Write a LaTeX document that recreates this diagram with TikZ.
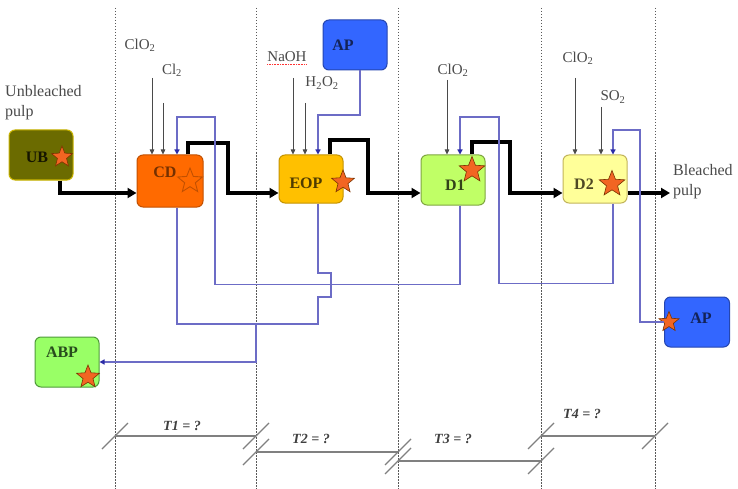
\documentclass[tikz,border=0pt]{standalone}
\usepackage{fontspec}
\setmainfont{Liberation Serif}
\usetikzlibrary{positioning,calc,arrows.meta,shapes.geometric}
\definecolor{UBolive}{HTML}{6B6B00}
\definecolor{UBedge}{HTML}{C9B400}
\definecolor{CDorange}{HTML}{FF6A00}
\definecolor{CDedge}{HTML}{C25000}
\definecolor{EOPgold}{HTML}{FFC000}
\definecolor{EOPedge}{HTML}{C49300}
\definecolor{Donelime}{HTML}{C0FF66}
\definecolor{Doneedge}{HTML}{7FA640}
\definecolor{Dtwocream}{HTML}{FFFF99}
\definecolor{Dtwoedge}{HTML}{C2B45A}
\definecolor{APblue}{HTML}{3366FF}
\definecolor{APedge}{HTML}{2546B0}
\definecolor{ABPgreen}{HTML}{99FF66}
\definecolor{ABPedge}{HTML}{4F9A3A}
\definecolor{FiltBlue}{HTML}{6C6CC6}
\definecolor{FiltTip}{HTML}{2B2BA6}
\definecolor{ChemGray}{HTML}{4A4A4A}
\definecolor{StarOrange}{HTML}{F26522}
\definecolor{StarEdge}{HTML}{7A3300}
\tikzset{
  unit/.style 2 args={draw=#2,fill=#1,rounded corners=6pt,line width=1pt,minimum width=64pt,minimum height=50pt,inner sep=0pt},
  burst/.style={star,star points=5,star point ratio=2.3,minimum size=#1,inner sep=0pt,fill=StarOrange,draw=StarEdge,line width=0.6pt},
  burst/.default=24pt
}

\begin{document}
\begin{tikzpicture}[x=1pt,y=-1pt,
  boxtext/.style={font=\fontsize{16}{18}\selectfont\bfseries,inner sep=0pt},
  chemlbl/.style={font=\fontsize{15}{20}\selectfont,text=ChemGray,inner sep=0pt},
  chem/.style={draw=ChemGray,line width=0.7pt,-{Triangle[length=5pt,width=4.5pt]}},
  pulp/.style={line width=3.2pt,-{Triangle[length=9pt,width=10pt]}},
  filt/.style={draw=FiltBlue,line width=1.3pt},
  filtin/.style={filt,-{Triangle[length=5pt,width=5pt,color=FiltTip]}},
  stage/.style={draw=gray!70!black,line width=0.8pt,dash pattern=on 1.5pt off 1.5pt},
  tbar/.style={draw=gray,line width=1.2pt},
  tlabel/.style={font=\fontsize{14}{16}\selectfont\bfseries\itshape,text=black!75,inner sep=0pt}]
\fill[white] (0,0) rectangle (738,489);
\useasboundingbox (0,0) rectangle (738,489);
% stage boundaries
\foreach \x in {115,256,398,541,655}{\draw[stage] (\x,8) -- (\x,489);}
% units
\node[unit={UBolive}{UBedge}] (ub) at (41,155) {};
\node[unit={CDorange}{CDedge},minimum width=66pt,minimum height=52pt] (cd) at (170,181) {};
\node[unit={EOPgold}{EOPedge},minimum height=48pt] (eop) at (311,179) {};
\node[unit={Donelime}{Doneedge}] (d1) at (453,180) {};
\node[unit={Dtwocream}{Dtwoedge},minimum height=48pt] (d2) at (595,179) {};
\node[unit={APblue}{APedge}] (apt) at (355,45) {};
\node[unit={APblue}{APedge},minimum width=65pt] (apr) at (697,322) {};
\node[unit={ABPgreen}{ABPedge}] (abp) at (67,362) {};
% unit names
\node[boxtext,text=black!80!UBolive] (ubname) at (37,157) {UB};
\node[boxtext,text=CDedge!60!black] (cdname) at (165,172) {CD};
\node[boxtext,text=EOPedge!40!black] (eopname) at (306,183) {EOP};
\node[boxtext,text=Doneedge!40!black] (d1name) at (455,185) {D1};
\node[boxtext,text=Dtwoedge!40!black] (d2name) at (584,184) {D2};
\node[boxtext,text=APedge!50!black] (aptname) at (343,45) {AP};
\node[boxtext,text=APedge!50!black] (aprname) at (701,318) {AP};
\node[boxtext,text=ABPedge!50!black] (abpname) at (62,352) {ABP};
% stars
\node[burst=22pt] (ubstar) at (62,157) {};
\node[burst=26pt,fill=none,draw=CDedge,line width=0.9pt] (cdstar) at (190,181) {};
\node[burst] (eopstar) at (343,182) {};
\node[burst=27pt] (d1star) at (472,170) {};
\node[burst=27pt] (d2star) at (612,184) {};
\node[burst=21pt] (aprstar) at (669,322) {};
\node[burst] (abpstar) at (88,377) {};
% pulp labels
\node[chemlbl,font=\fontsize{16}{20}\selectfont,align=left,anchor=west] (inlbl) at (5,103) {Unbleached\\pulp};
\node[chemlbl,font=\fontsize{16}{20}\selectfont,align=left,anchor=west] (outlbl) at (673,182) {Bleached\\pulp};
% chemicals
\foreach \n/\lx/\ly/\t/\ax/\ay/\u in {cdclo/140/45/ClO\textsubscript{2}/152/78/cd,
    cdcl/172/70/Cl\textsubscript{2}/163/103/cd,
    naoh/287/57/NaOH/293/78/eop,
    hperox/322/83/H\textsubscript{2}O\textsubscript{2}/305/103/eop,
    dclo/453/70/ClO\textsubscript{2}/447/80/d1,
    dtclo/578/58/ClO\textsubscript{2}/575/78/d2,
    sdiox/613/97/SO\textsubscript{2}/601/107/d2}{
  \node[chemlbl] (\n) at (\lx,\ly) {\t};
  \coordinate (\n top) at (\ax,\ay);
  \draw[chem] (\n top) -- (\n top |- \u.north);
}
\draw[red!80,densely dotted,line width=0.6pt] ([yshift=-2.5pt]naoh.base west) -- ([yshift=-2.5pt]naoh.base east);
% pulp line
\coordinate (line) at (0,193);
\coordinate (out) at (670,193);
\draw[pulp] ($(ub.south)+(19,0)$) |- (cd.west |- line);
\draw[pulp] ($(cd.north)+(18,0)$) |- (228,143) |- (eop.west |- line);
\draw[pulp] ($(eop.north)+(19,0)$) |- (368,140) |- (d1.west |- line);
\draw[pulp] ($(d1.north)+(19,0)$) |- (510,142) |- (d2.west |- line);
\draw[pulp] (d2.east |- line) -- (out);
% filtrate recycle
\draw[filtin] ($(apt.south)+(5,0)$) |- (318,115) -- ($(eop.north)+(7,0)$);
\draw[filtin] ($(d1.south)+(7,0)$) -- ++(0,79) -| (215,117) -| ($(cd.north)+(7,0)$);
\draw[filtin] ($(d2.south)+(18,0)$) -- ++(0,80) -| (499,117) -| ($(d1.north)+(7,0)$);
\draw[filtin] (apr.west) -| (640,130) -| ($(d2.north)+(18,0)$);
\draw[filt] ($(eop.south)+(7,0)$) -- (318,273) -- (331,273) -- (331,297) -- (318,297) |- (177,324) -- ($(cd.south)+(7,0)$);
\coordinate (abpjoin) at (256,324);
\draw[filtin] (abpjoin) |- (abp.east);
% retention times
\foreach \a/\b/\y/\lx/\ly/\n in {115/256/436/182/426/1,256/398/452/311/439/2,398/541/461/453/439/3,541/655/436/582/414/4}{
  \draw[tbar] (\a,\y) -- (\b,\y);
  \draw[tbar] (\a-13,\y+13) -- (\a+13,\y-13);
  \draw[tbar] (\b-13,\y+13) -- (\b+13,\y-13);
  \node[tlabel] (time\n) at (\lx,\ly) {T\n\ = ?};
}
\end{tikzpicture}
\end{document}
